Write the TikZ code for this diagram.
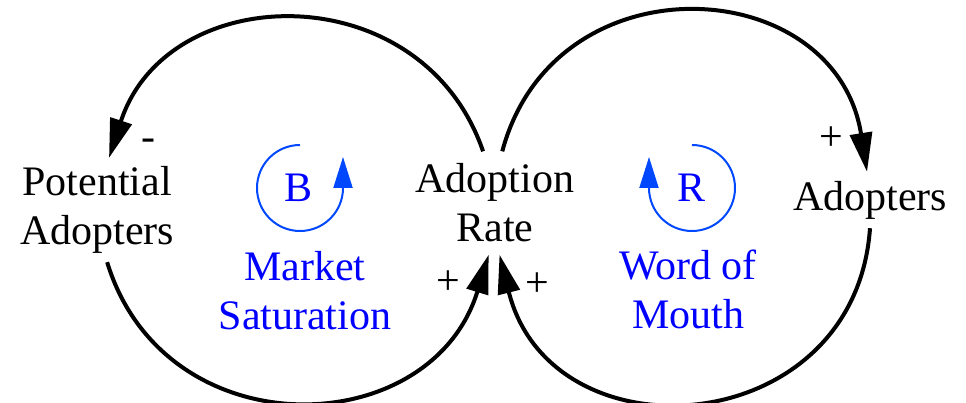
\documentclass[tikz,border=0pt]{standalone}
\usepackage{fontspec}
\setmainfont{Liberation Serif}
\usepackage{tikz}
\usetikzlibrary{arrows.meta}
\definecolor{loopblue}{RGB}{0,72,255}
\definecolor{textblue}{RGB}{0,0,255}

\begin{document}
\begin{tikzpicture}[x=1pt,y=1pt,
    var/.style={inner sep=0pt, align=center, font=\fontsize{42}{49}\selectfont},
    loopname/.style={var, text=textblue},
    sign/.style={inner sep=0pt, font=\fontsize{42}{49}\selectfont},
    link/.style={line width=4pt, -{Triangle[length=39pt,width=22pt]}},
    loopline/.style={draw=loopblue, line width=2pt, -{Triangle[length=31pt,width=19pt]}}]
    \useasboundingbox (0,0) rectangle (966,402);

    % Text Node
    \draw (97,192) node (PA) [var, minimum height=104pt] {Potential\\Adopters};
    % Text Node
    \draw (495,199) node (AR) [var, minimum height=103pt] {Adoption\\Rate};
    % Text Node
    \draw (870,202) node (AD) [var, minimum height=56pt] {Adopters};
    % Text Node
    \draw (305,111.5) node (MS) [loopname] {Market\\Saturation};
    % Text Node
    \draw (688,112.5) node (WM) [loopname] {Word of\\Mouth};
    % Text Node
    \draw (299,214) node (B) [loopname] {B};
    % Text Node
    \draw (691,214) node (R) [loopname] {R};

    % Connection
    \draw [link] (AR.103) to [out=109, in=72, distance=188pt] (PA.77);
    % Connection
    \draw [link] (PA.281) to [out=287, in=253, distance=197pt] (AR.263);
    % Connection
    \draw [link] (AR.82) to [out=75, in=99, distance=202pt] (AD.96);
    % Connection
    \draw [link] (AD.270) to [out=266, in=284, distance=214pt] (AR.275);

    % Loop marks
    \draw [loopline] (B.center) ++(1,43) arc [start angle=90, end angle=360, radius=43] -- ++(0,31);
    \draw [loopline] (R.center) ++(1,43) arc [start angle=90, end angle=-180, radius=43] -- ++(0,31);

    % Text Node
    \draw (148,257) node (sPA) [sign] {-};
    % Text Node
    \draw (831,263) node (sAD) [sign] {+};
    % Text Node
    \draw (448,119) node (sMS) [sign] {+};
    % Text Node
    \draw (537,117) node (sWM) [sign] {+};
\end{tikzpicture}
\end{document}
